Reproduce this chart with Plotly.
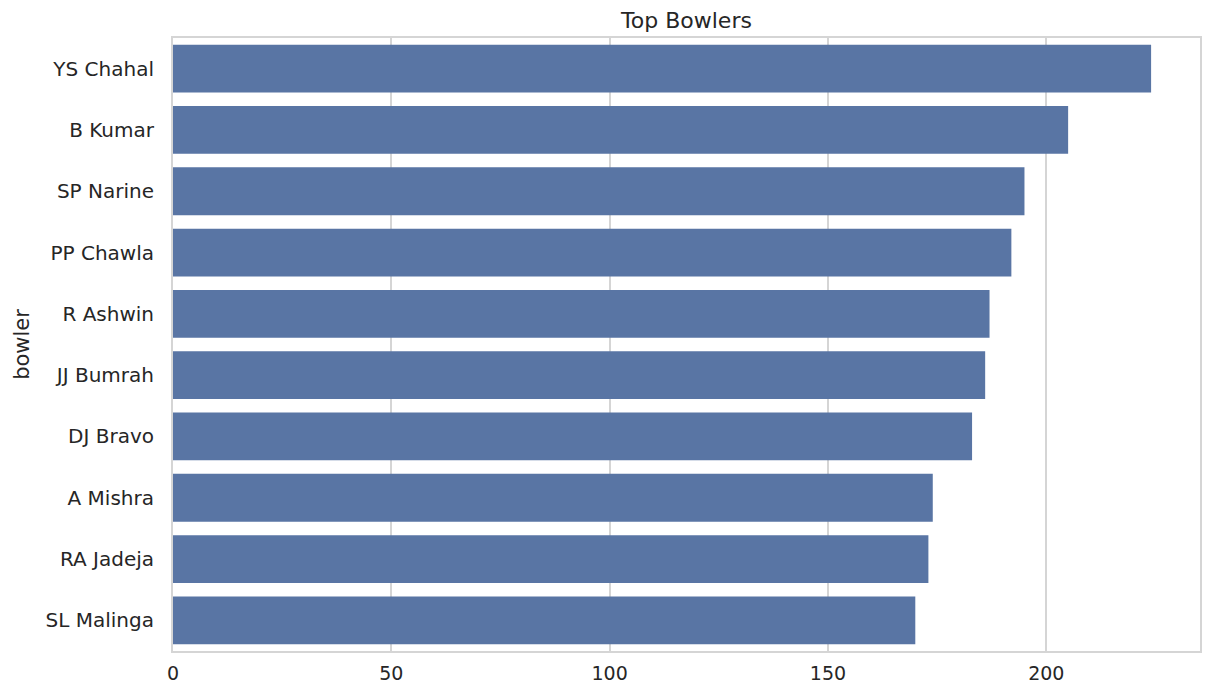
import plotly.graph_objects as go

# top bowlers by wickets
bowlers = ["YS Chahal", "B Kumar", "SP Narine", "PP Chawla", "R Ashwin",
           "JJ Bumrah", "DJ Bravo", "A Mishra", "RA Jadeja", "SL Malinga"]
wickets = [224, 205, 195, 192, 187, 186, 183, 174, 173, 170]

text_col = "#262626"
grid_col = "#d5d5d5"

fig = go.Figure()
fig.add_trace(go.Bar(
    x=wickets,
    y=bowlers,
    orientation="h",
    width=0.78,
    marker=dict(color="#5975a4", line=dict(width=0)),
    hoverinfo="x+y",
))

fig.update_layout(
    width=1210,
    height=696,
    margin=dict(l=165, r=18, t=30, b=53),
    paper_bgcolor="white",
    plot_bgcolor="white",
    font=dict(family="DejaVu Sans", size=20, color=text_col),
    title=dict(text="Top Bowlers", xref="paper", x=0.5, xanchor="center",
               y=0.983, yanchor="middle",
               font=dict(size=22, color=text_col)),
    showlegend=False,
)

fig.update_xaxes(
    range=[0, max(wickets) * 1.05],
    tick0=0, dtick=50,
    showgrid=True, gridcolor=grid_col, gridwidth=2,
    showline=True, linecolor=grid_col, linewidth=2, mirror=True,
    ticks="outside", ticklen=4, tickcolor="rgba(0,0,0,0)",
    tickfont=dict(size=19, color=text_col),
    zeroline=False,
)

fig.update_yaxes(
    categoryorder="array", categoryarray=bowlers,
    range=[len(bowlers) - 0.5, -0.5],
    showgrid=False,
    showline=True, linecolor=grid_col, linewidth=2, mirror=True,
    ticks="outside", ticklen=13, tickcolor="rgba(0,0,0,0)",
    tickfont=dict(size=20, color=text_col),
    title=dict(text="bowler", font=dict(size=21, color=text_col), standoff=10),
)

fig.write_html("out.html")
